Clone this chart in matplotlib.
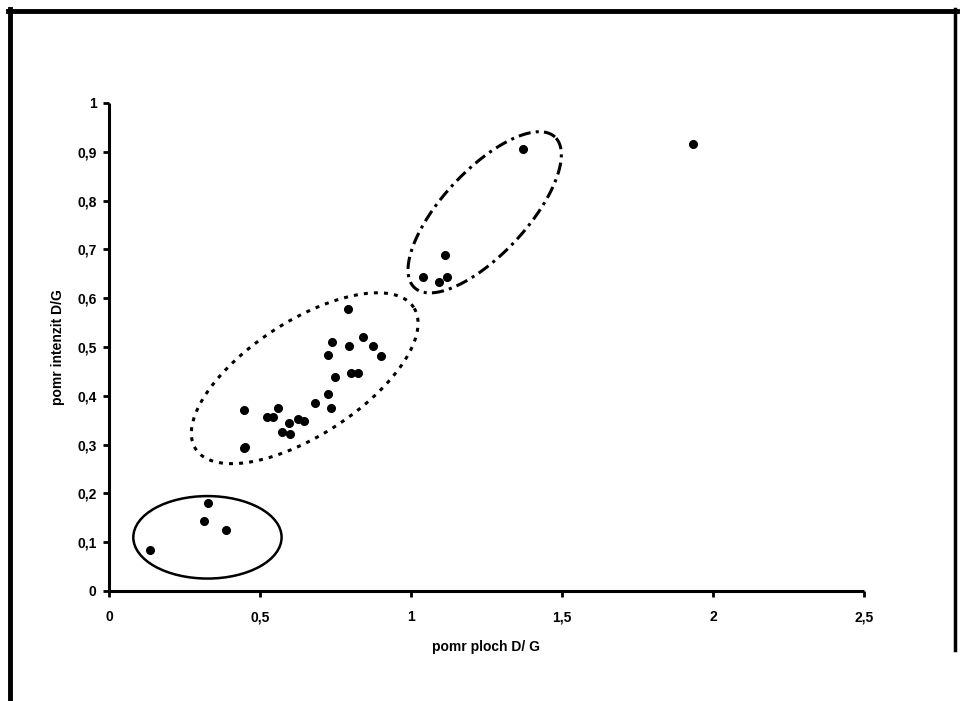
import numpy as np
import matplotlib
matplotlib.use("Agg")
import matplotlib.pyplot as plt
from matplotlib.patches import Ellipse
from matplotlib.lines import Line2D

# ---- data ----
x_vals = [0.136, 0.315, 0.329, 0.387,
          0.446, 0.449, 0.448, 0.522, 0.542, 0.559, 0.572, 0.596, 0.599, 0.625, 0.645,
          0.681, 0.725, 0.734, 0.749, 0.725, 0.801, 0.826, 0.737, 0.795, 0.842, 0.875,
          0.901, 0.792,
          1.041, 1.094, 1.113, 1.120, 1.372,
          1.935]
y_vals = [0.084, 0.144, 0.180, 0.125,
          0.293, 0.296, 0.371, 0.357, 0.357, 0.376, 0.326, 0.345, 0.322, 0.353, 0.348,
          0.385, 0.403, 0.376, 0.439, 0.484, 0.446, 0.446, 0.510, 0.502, 0.520, 0.502,
          0.482, 0.577,
          0.644, 0.633, 0.689, 0.644, 0.906,
          0.916]
x_ticks = [0, 0.5, 1, 1.5, 2, 2.5]
x_tick_labels = ["0", "0,5", "1", "1,5", "2", "2,5"]
y_ticks = [0, 0.1, 0.2, 0.3, 0.4, 0.5, 0.6, 0.7, 0.8, 0.9, 1]
y_tick_labels = ["0", "0,1", "0,2", "0,3", "0,4", "0,5", "0,6", "0,7", "0,8", "0,9", "1"]
x_label = "pomr ploch D/ G"
y_label = "pomr intenzit D/G"

# group ellipses: center (data), semi-axes (px), angle (deg)
solid_center = (0.326, 0.110); solid_w = 0.491; solid_h = 0.169
dotted_center = (0.648, 0.436); dotted_axes = (130, 57); dotted_angle = 33
dashdot_center = (1.244, 0.776); dashdot_axes = (103, 42); dashdot_angle = 47

W, H = 966, 701
fig = plt.figure(figsize=(W / 100, H / 100), dpi=100)
plt.rcParams['font.family'] = ['Liberation Sans', 'DejaVu Sans']

ax_left, ax_right, ax_top, ax_bottom = 109, 864, 103, 591
ax = fig.add_axes([ax_left / W, (H - ax_bottom) / H, (ax_right - ax_left) / W, (ax_bottom - ax_top) / H])
ax.set_xlim(0, 2.5)
ax.set_ylim(0, 1)
for s in ['top', 'right']:
    ax.spines[s].set_visible(False)
for s in ['left', 'bottom']:
    ax.spines[s].set_linewidth(2.2)
    ax.spines[s].set_capstyle('butt')
ax.spines['left'].set_bounds(0, 1)

ax.set_xticks(x_ticks)
ax.set_xticklabels(x_tick_labels, fontsize=10, fontweight='bold')
ax.set_yticks(y_ticks)
ax.set_yticklabels(y_tick_labels, fontsize=10, fontweight='bold')
ax.tick_params(axis='both', direction='out', length=4, width=2, pad=5)
ax.tick_params(axis='x', pad=10)

ax.set_xlabel(x_label, fontsize=10, fontweight='bold', labelpad=11)
ax.set_ylabel(y_label, fontsize=10, fontweight='bold', labelpad=9)

ax.plot(x_vals, y_vals, 'o', color='black', markersize=5.5, clip_on=False)

# solid ellipse (axis aligned)
ax.add_patch(Ellipse(solid_center, solid_w, solid_h, fill=False, edgecolor='black', linewidth=1.8))

# rotated ellipses drawn with pixel-scale geometry converted to data units
sx = (ax_right - ax_left) / 2.5
sy = (ax_bottom - ax_top) / 1.0
t = np.linspace(0, 2 * np.pi, 400)

def rot_ellipse(center, axes_px, angle):
    a, b = axes_px
    th = np.deg2rad(angle)
    px = a * np.cos(t) * np.cos(th) - b * np.sin(t) * np.sin(th)
    py = a * np.cos(t) * np.sin(th) + b * np.sin(t) * np.cos(th)
    return center[0] + px / sx, center[1] + py / sy

ex, ey = rot_ellipse(dotted_center, dotted_axes, dotted_angle)
ax.plot(ex, ey, color='black', linewidth=2.2, linestyle=(0, (1.3, 2.0)))
ex, ey = rot_ellipse(dashdot_center, dashdot_axes, dashdot_angle)
ax.plot(ex, ey, color='black', linewidth=2.2, linestyle=(0, (4, 1.7, 1, 1.7)))

# outer frame
fig.add_artist(Line2D([10 / W, 10 / W], [1 - 9 / H, 0], transform=fig.transFigure, color='black', linewidth=3.5))
fig.add_artist(Line2D([8 / W, 957 / W], [1 - 11 / H, 1 - 11 / H], transform=fig.transFigure, color='black', linewidth=3.5))
fig.add_artist(Line2D([955 / W, 955 / W], [1 - 9 / H, 1 - 650 / H], transform=fig.transFigure, color='black', linewidth=2.5))

fig.savefig("out.png", dpi=100)
